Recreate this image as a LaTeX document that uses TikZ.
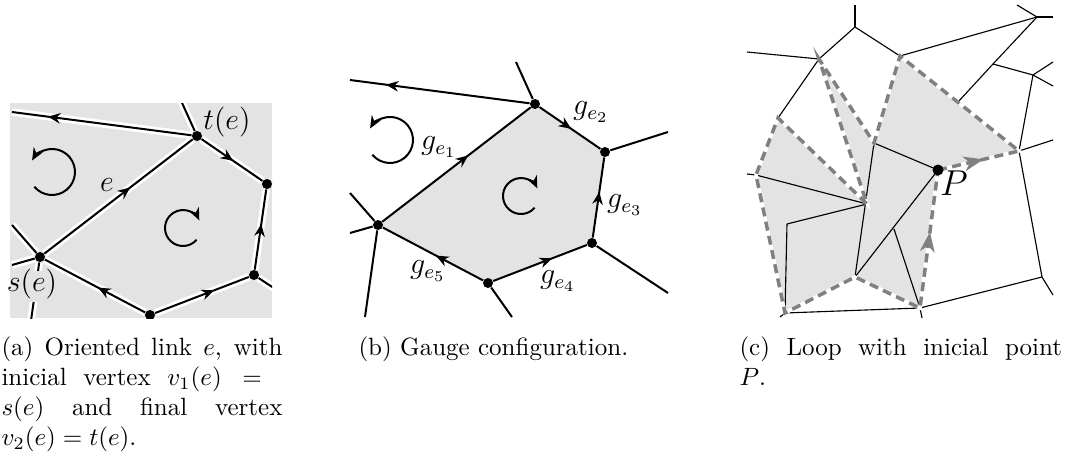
\documentclass[tikz,border=0pt]{standalone}
\usepackage{amsmath,amssymb}
\usepackage{xcolor}
\usetikzlibrary{arrows.meta, decorations.markings, backgrounds}

\definecolor{facegray}{gray}{0.89}
\definecolor{loopgray}{gray}{0.5}

\tikzset{
  vtx/.style={circle, fill=black, inner sep=0pt, minimum size=4pt},
  link/.style={line width=0.8pt},
  halo/.style={white, line width=3pt},
  thinlink/.style={line width=0.45pt},
  spin/.style={line width=0.8pt, -{Stealth[length=5pt, width=4.2pt]}},
  midarrow/.style={postaction={decorate, decoration={markings,
      mark=at position #1 with {\arrow{Stealth[length=5pt, width=4.2pt]}}}}},
  looparrow/.style={postaction={decorate, decoration={markings,
      mark=at position #1 with {\arrow{Stealth[length=8pt, width=6pt, inset=2.5pt]}}}}},
  looppath/.style={loopgray, line width=1.4pt, dash pattern=on 3.6pt off 2.2pt},
  lbl/.style={inner sep=0pt, font=\large},
  capt/.style={anchor=north west, inner sep=0pt, align=justify},
}

\begin{document}
\begin{tikzpicture}[x=0.4pt, y=-0.4pt]
  \useasboundingbox (0,0) rectangle (1069,460);

  % --- (a) oriented link ---
  \begin{scope}
    \clip (10,103) rectangle (272,318);
    \fill[facegray] (10,103) rectangle (272,318);
    \node[vtx] (a1) at (197,136) {};
    \node[vtx] (a2) at (267,184) {};
    \node[vtx] (a3) at (254,275) {};
    \node[vtx] (a4) at (150,315) {};
    \node[vtx] (a5) at (40,257) {};
    \coordinate (a1l) at (12,112);
    \coordinate (a1u) at (178,94);
    \coordinate (a2r) at (330,164);
    \coordinate (a3r) at (330,325);
    \coordinate (a4d) at (174,349);
    \coordinate (a5u) at (12,225);
    \coordinate (a5l) at (12,265);
    \coordinate (a5d) at (27,349);
    \foreach \u/\v in {a1/a1l, a1/a1u, a1/a2, a2/a2r, a3/a2, a3/a3r, a4/a3,
                       a4/a4d, a4/a5, a5/a1, a5/a5u, a5/a5l, a5/a5d}
      \draw[halo] (\u) -- (\v);
    \draw[link, midarrow=0.8] (a1) -- (a1l);
    \draw[link] (a1) -- (a1u);
    \draw[link, midarrow=0.52] (a1) -- (a2);
    \draw[link] (a2) -- (a2r);
    \draw[link, midarrow=0.57] (a3) -- (a2);
    \draw[link] (a3) -- (a3r);
    \draw[link, midarrow=0.63] (a4) -- (a3);
    \draw[link] (a4) -- (a4d);
    \draw[link, midarrow=0.47] (a4) -- (a5);
    \draw[link, midarrow=0.58] (a5) -- (a1);
    \draw[link] (a5) -- (a5u);
    \draw[link] (a5) -- (a5l);
    \draw[link] (a5) -- (a5d);
    \fill[facegray] (10,271) rectangle (58,302);
  \end{scope}
  \draw[spin] (52,172) ++(140:23) arc[start angle=140, end angle=-150, radius=23];
  \draw[spin] (183,228) ++(41:18) arc[start angle=41, end angle=335, radius=18];
  \node[lbl] (le) at (107,185) {$e$};
  \node[lbl] (lt) at (227,122) {$t(e)$};
  \node[lbl] (ls) at (32,284) {$s(e)$};

  % --- (b) gauge configuration ---
  \node[vtx] (b1) at (535,104) {};
  \node[vtx] (b2) at (605,152) {};
  \node[vtx] (b3) at (592,243) {};
  \node[vtx] (b4) at (488,283) {};
  \node[vtx] (b5) at (378,225) {};
  \begin{scope}[on background layer]
    \fill[facegray] (b1.center) -- (b2.center) -- (b3.center) -- (b4.center) -- (b5.center) -- cycle;
  \end{scope}
  \coordinate (b1l) at (350,80);
  \coordinate (b1u) at (516,62);
  \coordinate (b2r) at (668,132);
  \coordinate (b3r) at (668,293);
  \coordinate (b4d) at (512,317);
  \coordinate (b5u) at (350,193);
  \coordinate (b5l) at (350,233);
  \coordinate (b5d) at (365,317);
  \draw[link, midarrow=0.8] (b1) -- (b1l);
  \draw[link] (b1) -- (b1u);
  \draw[link, midarrow=0.52] (b1) -- (b2);
  \draw[link] (b2) -- (b2r);
  \draw[link, midarrow=0.57] (b3) -- (b2);
  \draw[link] (b3) -- (b3r);
  \draw[link, midarrow=0.63] (b4) -- (b3);
  \draw[link] (b4) -- (b4d);
  \draw[link, midarrow=0.47] (b4) -- (b5);
  \draw[link, midarrow=0.58] (b5) -- (b1);
  \draw[link] (b5) -- (b5u);
  \draw[link] (b5) -- (b5l);
  \draw[link] (b5) -- (b5d);
  \draw[spin] (390,140) ++(140:23) arc[start angle=140, end angle=-150, radius=23];
  \draw[spin] (521,196) ++(41:18) arc[start angle=41, end angle=335, radius=18];
  \node[lbl] (g1) at (439,147) {$g_{e_1}$};
  \node[lbl] (g2) at (591,112) {$g_{e_2}$};
  \node[lbl] (g3) at (625,205) {$g_{e_3}$};
  \node[lbl] (g4) at (558,281) {$g_{e_4}$};
  \node[lbl] (g5) at (428,271) {$g_{e_5}$};

  % --- (c) loop with initial point ---
  \coordinate (c1) at (855,27);   \coordinate (c1u) at (855,5);
  \coordinate (c2) at (819,59);   \coordinate (c2l) at (747,52);
  \coordinate (c3) at (900,56);
  \coordinate (c4) at (1037,17);  \coordinate (c4a) at (1017,5);
  \coordinate (c4b) at (1053,17);
  \coordinate (c5) at (993,64);   \coordinate (w) at (958,102);
  \coordinate (c6) at (1033,75);  \coordinate (c6a) at (1053,62);
  \coordinate (c6b) at (1053,86);
  \coordinate (c7) at (1019,151); \coordinate (c7r) at (1053,140);
  \coordinate (c8) at (1042,277); \coordinate (c8d) at (1053,295);
  \coordinate (c9) at (920,308);  \coordinate (c9d) at (922,318);
  \coordinate (p) at (938,170);
  \coordinate (r1) at (874,143);
  \coordinate (r2) at (867,204);
  \coordinate (r3) at (778,118);
  \coordinate (r4) at (756,175);  \coordinate (r4l) at (747,174);
  \coordinate (r5) at (785,313);  \coordinate (r5d) at (780,317);
  \coordinate (r6) at (855,277);
  \coordinate (m1) at (787,224);
  \coordinate (m2) at (894,229);
  \fill[facegray] (c3) -- (r1) -- (c2) -- (r2) -- (r3) -- (r4) -- (r5) -- (r6)
    -- (c9) -- (p) -- (c7) -- cycle;
  \foreach \u/\v in {c1/c1u, c1/c2, c1/c3, c2/c2l, c2/r3, c3/c4, c4/c4a, c4/c4b,
                     c4/c5, c5/w, c5/c6, c6/c6a, c6/c6b, c6/c7, c7/c7r, c7/c8,
                     c8/c8d, c8/c9, c9/c9d, c9/r5, r5/r5d, r4/r4l, r4/r2, r2/m1,
                     m1/r5, r1/p, r1/r6, r6/p, m2/c9}
    \draw[thinlink] (\u) -- (\v);
  \draw[white, line width=1.4pt] (p) -- (c7) -- (c3) -- (r1) -- (c2) -- (r2) -- (r3)
    -- (r4) -- (r5) -- (r6) -- (c9) -- cycle;
  \draw[looppath] (p) -- (c7) -- (c3) -- (r1) -- (c2) -- (r2) -- (r3)
    -- (r4) -- (r5) -- (r6) -- (c9) -- cycle;
  \path[loopgray, looparrow=0.56] (p) -- (c7);
  \path[loopgray, looparrow=0.55] (c9) -- (p);
  \node[circle, fill=black, inner sep=0pt, minimum size=4.4pt] (pdot) at (p) {};
  \node[lbl, font=\Large] (lp) at (954,183) {$P$};

  % --- captions ---
  \node[capt, text width=112.4pt] (capa) at (1,336)
    {(a) Oriented link $e$, with\linebreak inicial vertex $v_1(e) ={}$\linebreak
     $s(e)$ and final vertex\linebreak $v_2(e) = t(e)$.};
  \node[capt] (capb) at (358,336) {(b) Gauge configuration.};
  \node[capt, text width=129pt] (capc) at (739,336)
    {(c) Loop with inicial point\linebreak $P$.};
\end{tikzpicture}
\end{document}
